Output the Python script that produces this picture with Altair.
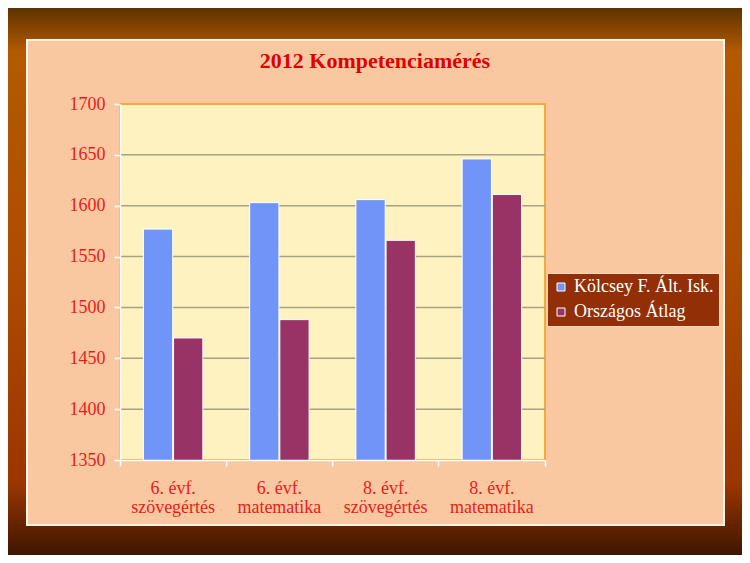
import altair as alt
import pandas as pd

categories = ["6. évf. szövegértés", "6. évf. matematika", "8. évf. szövegértés", "8. évf. matematika"]
series = ["Kölcsey F. Ált. Isk.", "Országos Átlag"]
kolcsey = [1577, 1603, 1606, 1646]
orszagos = [1470, 1488, 1566, 1611]
y_ticks = [1350, 1400, 1450, 1500, 1550, 1600, 1650, 1700]
grid_values = [1400, 1450, 1500, 1550, 1600, 1650]
title_text = "2012 Kompetenciamérés"

rows = []
for i, c in enumerate(categories):
    rows.append({"cat": c, "series": series[0], "value": kolcsey[i]})
    rows.append({"cat": c, "series": series[1], "value": orszagos[i]})
df = pd.DataFrame(rows)
grid_df = pd.DataFrame({"value": grid_values})
one = pd.DataFrame({"a": [0]})
title_df = pd.DataFrame({"t": [title_text]})

W, H = 425, 356
PL, PT, PR, PB = 112, 96, 197, 95
FONT = "Liberation Serif"
RED = "#EE1A1A"

yscale = alt.Scale(domain=[1350, 1700], nice=False, zero=False)
yaxis = alt.Axis(values=y_ticks, format="d", title=None, grid=False, domainColor="white",
                 domainWidth=1.5, tickColor="white", tickSize=6, tickWidth=1.5, labelColor=RED,
                 labelFont=FONT, labelFontSize=18, labelPadding=9, zindex=1)

slide_bg = alt.Chart(one).mark_rect(
    fill=alt.LinearGradient(gradient="linear", x1=0, x2=0, y1=0, y2=1, stops=[
        alt.GradientStop(color="#5E3200", offset=0),
        alt.GradientStop(color="#B35A00", offset=0.08),
        alt.GradientStop(color="#AE4E00", offset=0.45),
        alt.GradientStop(color="#9A3600", offset=0.87),
        alt.GradientStop(color="#3E1600", offset=1),
    ])
).encode(x=alt.value(-PL), x2=alt.value(W + PR), y=alt.value(-PT), y2=alt.value(H + PB))

panel = alt.Chart(one).mark_rect(fill="#F9C8A0", stroke="#FFF4E6", strokeWidth=2).encode(
    x=alt.value(-93), x2=alt.value(604), y=alt.value(-64), y2=alt.value(421))

plot_bg = alt.Chart(one).mark_rect(fill="#FEF3C0", stroke="#F5A93A", strokeWidth=2).encode(
    x=alt.value(0), x2=alt.value(W), y=alt.value(0), y2=alt.value(H))

title = alt.Chart(title_df).mark_text(
    font=FONT, fontSize=22, fontWeight="bold", color="#E00000", align="center",
    baseline="alphabetic").encode(text="t:N", x=alt.value(255), y=alt.value(-36))

grid = alt.Chart(grid_df).mark_rule(color="#A8A283", strokeWidth=1.5).encode(
    y=alt.Y("value:Q", scale=yscale, axis=yaxis))

bars = alt.Chart(df).mark_bar(stroke="white", strokeWidth=1, clip=True).encode(
    x=alt.X("cat:N", sort=categories,
            scale=alt.Scale(paddingInner=0, paddingOuter=0),
            axis=alt.Axis(title=None, labelAngle=0, bandPosition=1, tickExtra=True,
                          domainColor="white", domainWidth=1.5, tickColor="white", tickSize=6,
                          tickWidth=1.5, labelColor=RED, labelFont=FONT, labelFontSize=18,
                          labelPadding=13, labelLineHeight=19,
                          labelExpr="[slice(datum.label, 0, 7), slice(datum.label, 8)]",
                          zindex=1)),
    xOffset=alt.XOffset("series:N", sort=series,
                        scale=alt.Scale(paddingInner=0.03, paddingOuter=0.775)),
    y=alt.Y("value:Q", scale=yscale, axis=yaxis),
    color=alt.Color("series:N", sort=series,
                    scale=alt.Scale(domain=series, range=["#7094F8", "#993366"]),
                    legend=alt.Legend(title=None, orient="none", legendX=427, legendY=169,
                                      fillColor="#922F06", strokeColor="#F2D9C0", padding=5,
                                      labelFont=FONT, labelFontSize=18, labelColor="white",
                                      symbolType="square", symbolSize=64,
                                      symbolStrokeColor="white", symbolStrokeWidth=1,
                                      rowPadding=7, labelOffset=4, labelLimit=300)),
)

chart = alt.layer(slide_bg, panel, plot_bg, grid, bars, title).properties(
    width=W, height=H,
    padding={"left": PL, "top": PT, "right": PR, "bottom": PB},
    autosize=alt.AutoSizeParams(type="none"),
).configure_view(stroke=None)

chart.save("out.html", embed_options={"renderer": "svg", "actions": False})
